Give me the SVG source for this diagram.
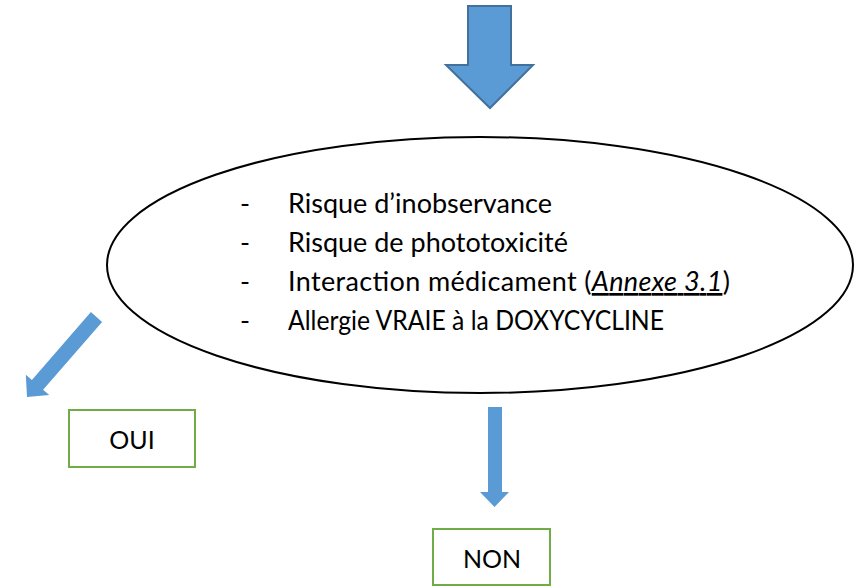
<svg xmlns="http://www.w3.org/2000/svg" width="854" height="586" viewBox="0 0 854 586">
  <style>
    .txt { font-family: Lato, "Open Sans", sans-serif; font-size: 27px; fill: #000; }
    .lbl { font-family: Lato, "Open Sans", sans-serif; font-size: 25px; fill: #000; }
    .box { fill: #fff; stroke: #70AD47; stroke-width: 2; }
    .arrow { fill: #5B9BD5; }
    .arrow-main { fill: #5B9BD5; stroke: #41719C; stroke-width: 2; stroke-linejoin: miter; }
    .oval { fill: #fff; stroke: #000; stroke-width: 2; }
  </style>
  <rect width="854" height="586" fill="#fff"/>

  <g id="connectors">
    <polygon id="arrow-in" class="arrow-main" points="468,6 511,6 511,65 533,65 490,108 446,65 468,65"/>
    <polygon id="arrow-oui" class="arrow" points="90.9,312.1 102.1,321.9 43.1,389.8 49.2,395.1 27,397 25.8,374.7 31.9,380"/>
    <polygon id="arrow-non" class="arrow" points="488,407 502,407 502,492 509,492 494.5,507 480,492 488,492"/>
  </g>

  <g id="criteria">
    <ellipse class="oval" cx="480" cy="265" rx="373" ry="128"/>
    <g class="txt">
      <text x="240" y="213">-</text>
      <text x="288" y="213">Risque d’inobservance</text>
      <text x="240" y="252">-</text>
      <text x="288" y="252">Risque de phototoxicité</text>
      <text x="240" y="291">-</text>
      <text x="288" y="291" textLength="442">Interaction médicament (<tspan font-style="italic" text-decoration="underline">Annexe 3.1</tspan>)</text>
      <text x="240" y="330">-</text>
      <text x="288" y="330" textLength="376" lengthAdjust="spacingAndGlyphs">Allergie VRAIE à la DOXYCYCLINE</text>
    </g>
  </g>

  <g id="oui">
    <rect class="box" x="69" y="410" width="126" height="57"/>
    <text class="lbl" x="132" y="449" text-anchor="middle">OUI</text>
  </g>

  <g id="non">
    <rect class="box" x="433" y="529" width="117" height="56"/>
    <text class="lbl" x="492" y="568" text-anchor="middle">NON</text>
  </g>
</svg>
